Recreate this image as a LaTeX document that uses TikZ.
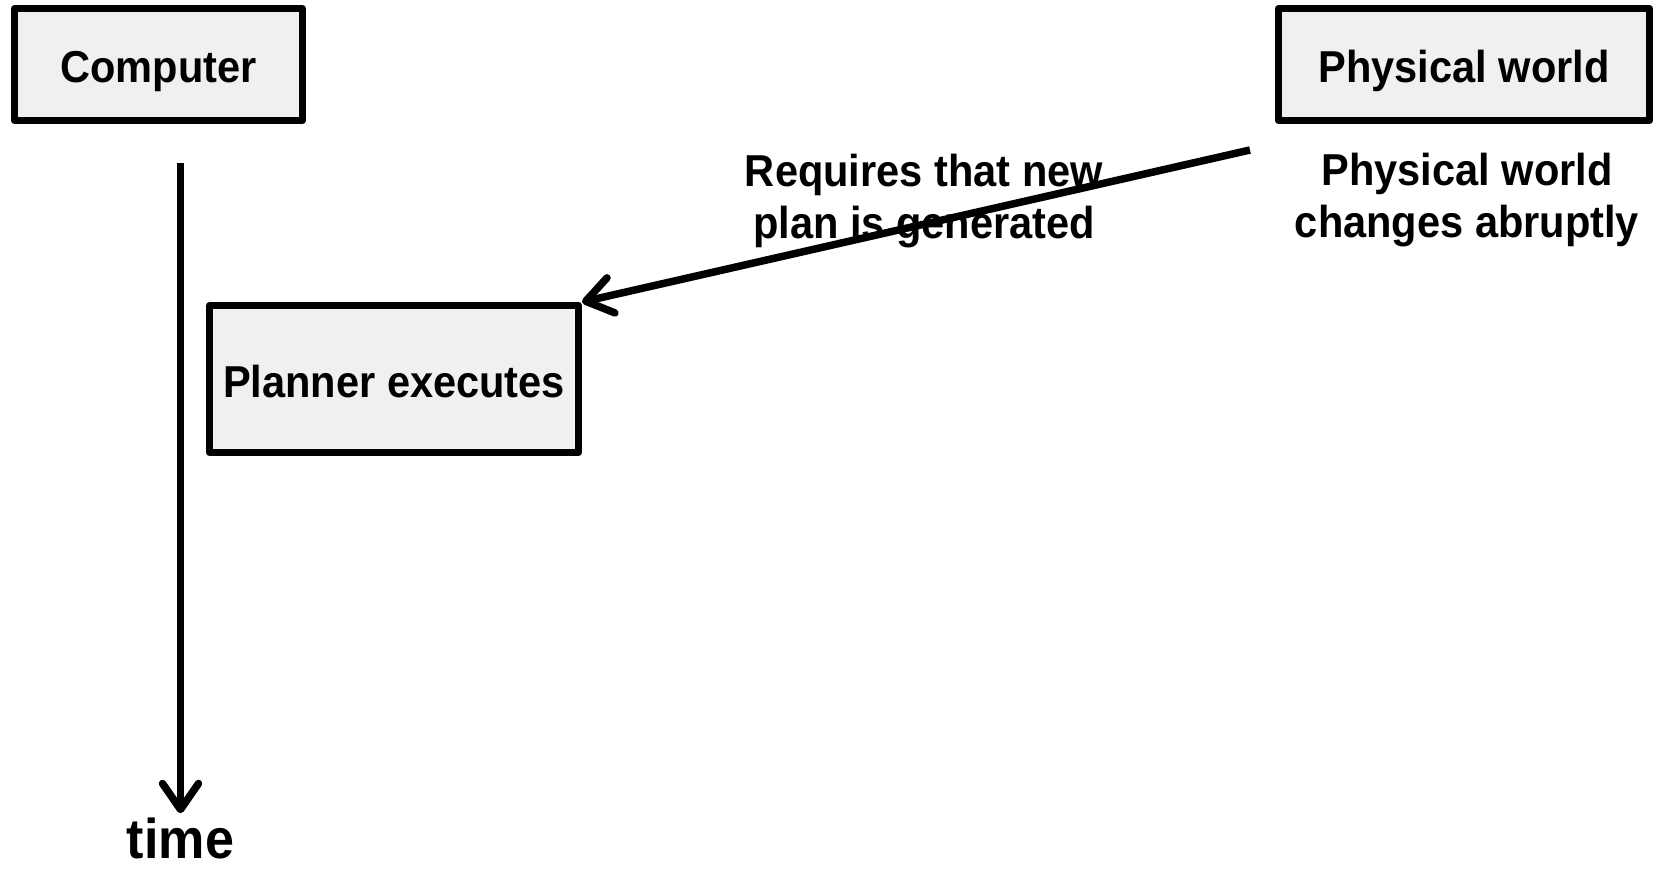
\documentclass[tikz,border=0pt]{standalone}
\usepackage{fontspec}
\newfontfamily\diagfont{Liberation Sans}[FakeStretch=0.93]
\usetikzlibrary{arrows.meta}
\definecolor{boxfill}{HTML}{F0F0F0}
\tikzset{
  boxnode/.style={draw=black, fill=boxfill, line width=7pt, line join=round,
    rectangle, inner sep=0pt, text height=36pt, text depth=0pt,
    font=\diagfont\bfseries\fontsize{44.7}{52}\selectfont},
  labeltext/.style={inner sep=0pt, align=center,
    font=\diagfont\bfseries\fontsize{44.7}{52}\selectfont},
  flow/.style={line width=7.5pt, -{Straight Barb[length=26pt, width=36pt, line cap=round, line join=round]}}
}
\begin{document}
\begin{tikzpicture}[x=1pt, y=-1pt]
  \useasboundingbox (0,0) rectangle (1660,868);
  % boxes
  \node[boxnode, minimum width=288pt, minimum height=112pt] (computer) at (158.5,64.5) {Computer};
  \node[boxnode, minimum width=371pt, minimum height=112pt] (world) at (1464,64.5) {Physical world};
  \node[boxnode, minimum width=369pt, minimum height=147pt] (planner) at (394,379) {Planner executes};
  % captions
  \node[labeltext] (change) at (1467,200) {Physical world\\changes abruptly};
  \node[labeltext] (requires) at (924,201) {Requires that new\\plan is generated};
  \node[labeltext, anchor=base, font=\diagfont\bfseries\fontsize{56}{60}\selectfont] (time) at (180.5,858) {time};
  % time axis
  \coordinate (tstart) at (180.5,163);
  \draw[flow] (tstart) -- (time.north) [shorten >=4pt];
  % disturbance arrow
  \coordinate (wstart) at (1250,150);
  \draw[flow] (wstart) -- (planner.north east);
\end{tikzpicture}
\end{document}
